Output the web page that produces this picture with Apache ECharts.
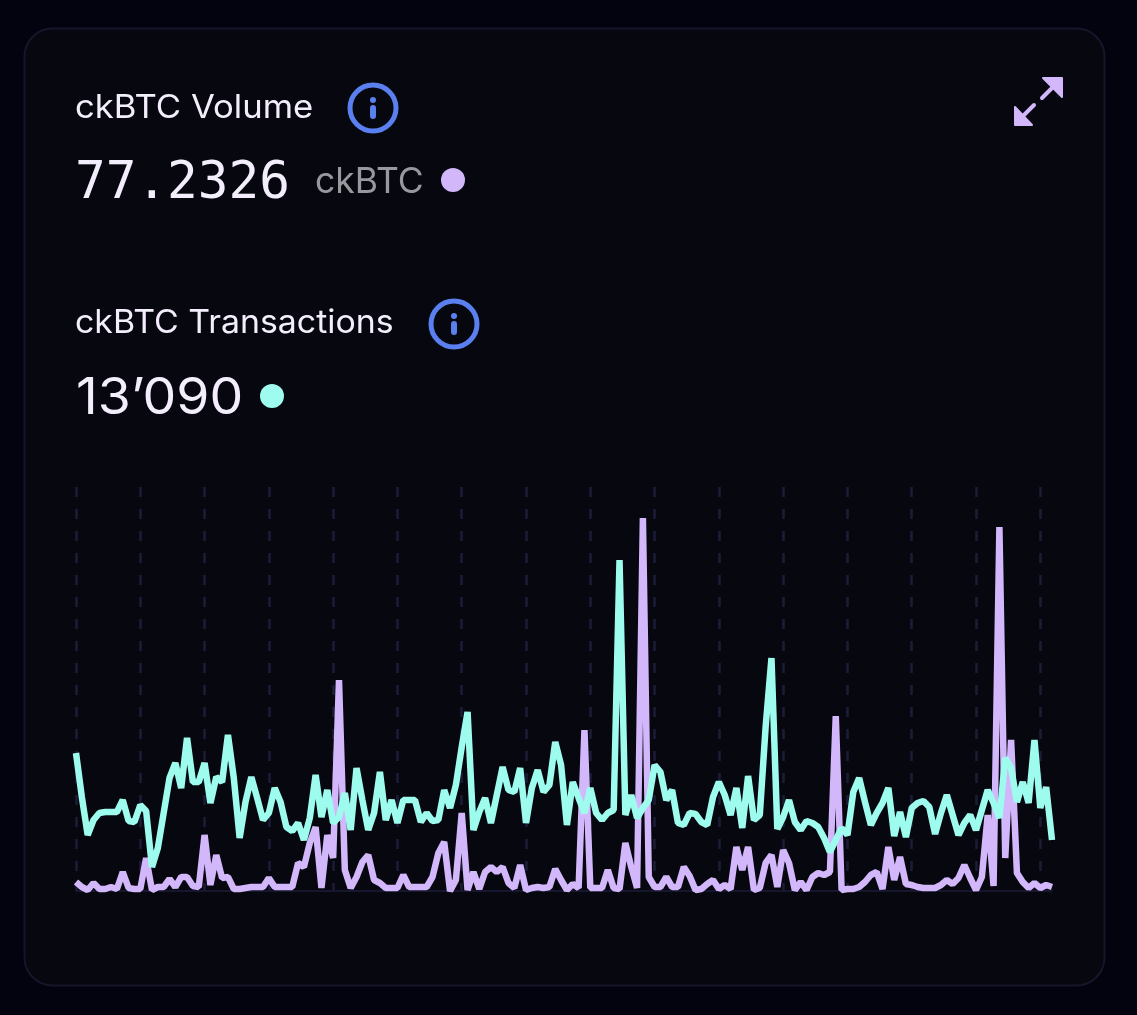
<!DOCTYPE html>
<html><head><meta charset="utf-8">
<style>html,body{margin:0;padding:0;background:#03030f;overflow:hidden}#c{width:1137px;height:1015px}</style>
<script src="https://cdn.jsdelivr.net/npm/echarts@6/dist/echarts.min.js"></script>
</head><body><div id="c"></div>
<script>
const transactionValues = [138,94,56,71,78,79,79,79,91,70,69,86,80,24,43,78,113,128,103,153,109,109,128,88,114,109,156,113,53,89,114,93,71,78,103,89,64,60,68,51,73,116,74,101,68,74,98,61,123,91,61,78,119,71,91,68,91,91,91,69,78,70,71,101,83,106,144,179,61,79,93,68,96,124,101,99,123,68,103,121,99,106,149,126,66,109,93,78,103,78,71,78,81,331,76,96,73,83,91,126,119,91,101,68,66,78,77,69,66,94,109,96,76,103,63,115,71,76,164,233,62,74,91,69,61,70,68,64,53,39,51,63,56,99,113,89,66,78,88,103,55,79,54,83,88,90,84,57,78,96,76,56,68,76,61,81,101,88,73,133,123,89,109,88,151,83,104,51];
const volumeValues = [9,4,1,8,2,2,4,2,19,3,2,2,33,1,4,4,12,4,14,14,5,4,56,6,36,13,14,2,2,3,4,4,4,13,4,4,4,4,28,24,48,64,3,56,33,211,21,3,14,29,36,11,8,3,3,3,16,4,4,4,4,14,38,49,0,11,78,1,19,2,19,24,19,24,8,3,26,1,3,4,3,4,22,11,1,7,3,161,3,3,3,21,3,2,48,24,3,373,14,4,4,14,4,4,24,15,1,2,7,11,2,6,2,44,21,44,1,3,28,36,4,41,28,1,9,1,14,18,16,19,175,1,2,2,4,9,16,19,2,44,11,34,7,6,4,3,3,3,6,11,7,13,26,13,1,14,76,5,364,33,151,18,9,3,8,3,6,4];
const categories = transactionValues.map((_, i) => 'D' + (i + 1));
const purple = '#d3b7fb', teal = '#9efcef', blue = '#5a80f0';
const sans = 'Inter, "Noto Sans", sans-serif', mono = '"DejaVu Sans Mono", monospace';
function text(x, y, t, size, fill, fam, sx) {
  return {type:'text', x, y, z:5, scaleX:sx||1, style:{text:t, fontSize:size, fontFamily:fam||sans, fill, textVerticalAlign:'middle', textBaseline:'middle'}};
}
function info(cx, cy) {
  return [
    {type:'circle', z:5, shape:{cx, cy, r:23}, style:{fill:'transparent', stroke:blue, lineWidth:5}},
    {type:'circle', z:5, shape:{cx, cy:cy-8, r:3}, style:{fill:blue}},
    {type:'rect', z:5, shape:{x:cx-3, y:cy-3, width:6, height:14, r:3}, style:{fill:blue}}
  ];
}
const chart = echarts.init(document.getElementById('c'), null, {renderer:'canvas'});
chart.setOption({
  animation:false,
  backgroundColor:'#03030f',
  grid:{left:76, right:85, top:487, bottom:124, containLabel:false},
  xAxis:{type:'category', data:categories, boundaryGap:false,
    axisLine:{show:true, lineStyle:{color:'#16162e', width:2}},
    axisTick:{show:false}, axisLabel:{show:false},
    splitLine:{show:true, interval:10, lineStyle:{color:'#1c1c38', width:2.5, type:[10,12]}}},
  yAxis:{type:'value', min:0, max:404, axisLine:{show:false}, axisTick:{show:false}, axisLabel:{show:false}, splitLine:{show:false}},
  series:[
    {name:'ckBTC Volume', type:'line', data:volumeValues, symbol:'none', z:3, lineStyle:{color:purple, width:6.5}, itemStyle:{color:purple}},
    {name:'ckBTC Transactions', type:'line', data:transactionValues, symbol:'none', z:4, lineStyle:{color:teal, width:6.5}, itemStyle:{color:teal}}
  ],
  graphic:[
    {type:'rect', z:-10, shape:{x:24.5, y:28.5, width:1080, height:957, r:28}, style:{fill:'#07070f', stroke:'#15152b', lineWidth:2}},
    text(75,108,'ckBTC Volume',33,'#f3eefc',sans,1.05),
    ...info(373,108),
    text(75,185,'77.2326',51,'#f3eefc',mono),
    text(315,182,'ckBTC',35.5,'#98989f'),
    {type:'circle', z:5, shape:{cx:453, cy:180, r:12}, style:{fill:purple}},
    text(75,323,'ckBTC Transactions',33,'#f3eefc',sans,1.026),
    ...info(454,324),
    text(76,399,'13’090',51,'#f3eefc',sans,1.05),
    {type:'circle', z:5, shape:{cx:272, cy:396, r:12}, style:{fill:teal}},
    {type:'polygon', z:5, shape:{points:[[1043,78],[1062,78],[1062,97]]}, style:{fill:purple, stroke:purple, lineWidth:2, lineJoin:'round'}},
    {type:'line', z:5, shape:{x1:1053,y1:87,x2:1042,y2:98}, style:{stroke:purple, lineWidth:4, lineCap:'round'}},
    {type:'polygon', z:5, shape:{points:[[1015,107],[1015,125],[1032,125]]}, style:{fill:purple, stroke:purple, lineWidth:2, lineJoin:'round'}},
    {type:'line', z:5, shape:{x1:1023,y1:116,x2:1034,y2:105}, style:{stroke:purple, lineWidth:4, lineCap:'round'}}
  ]
});
</script></body></html>
